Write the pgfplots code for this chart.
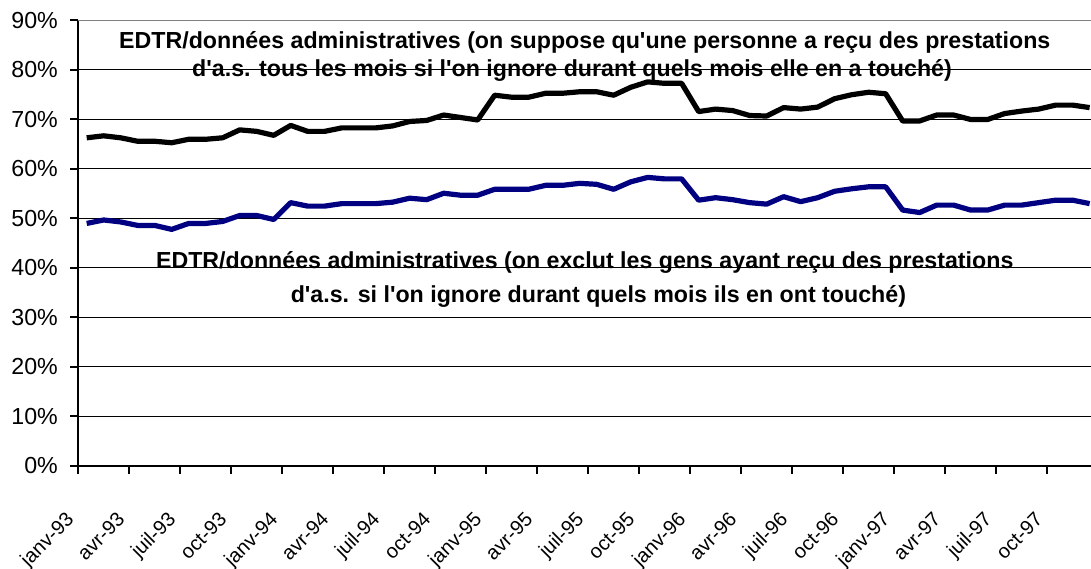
\documentclass[border=0pt]{standalone}
\usepackage{graphicx}
\usepackage{pgfplots}
\pgfplotsset{compat=1.18}
\usepackage{fontspec}
\setmainfont{Liberation Sans}
\definecolor{navyb}{RGB}{0,0,128}
\pgfplotstableread{
i a b
0 66.3 49.0
1 66.7 49.7
2 66.3 49.3
3 65.6 48.6
4 65.6 48.6
5 65.3 47.8
6 66.0 49.0
7 66.0 49.0
8 66.3 49.4
9 67.9 50.6
10 67.6 50.6
11 66.8 49.8
12 68.8 53.2
13 67.6 52.5
14 67.6 52.5
15 68.3 53.0
16 68.3 53.0
17 68.3 53.0
18 68.7 53.3
19 69.6 54.1
20 69.8 53.8
21 70.9 55.1
22 70.4 54.7
23 69.9 54.7
24 74.9 55.9
25 74.5 55.9
26 74.5 55.9
27 75.3 56.7
28 75.3 56.7
29 75.6 57.1
30 75.6 56.9
31 74.9 55.9
32 76.5 57.4
33 77.6 58.3
34 77.3 58.0
35 77.3 58.0
36 71.6 53.7
37 72.1 54.2
38 71.8 53.8
39 70.8 53.2
40 70.7 52.9
41 72.4 54.4
42 72.1 53.4
43 72.5 54.2
44 74.2 55.5
45 75.0 56.0
46 75.5 56.4
47 75.2 56.4
48 69.7 51.7
49 69.7 51.2
50 70.9 52.7
51 70.9 52.7
52 70.0 51.7
53 70.0 51.7
54 71.2 52.7
55 71.7 52.7
56 72.1 53.2
57 72.9 53.7
58 72.9 53.7
59 72.4 53.0
}\datatable
\newcommand{\tl}[1]{\rotatebox{45}{\raisebox{0pt}[0.75em][0pt]{#1}}}
\begin{document}
\begin{tikzpicture}
\begin{axis}[name=ax,
  scale only axis, width=506.4pt, height=222.75pt,
  xmin=-0.5, xmax=59.08, ymin=0, ymax=90,
  axis x line=bottom, axis y line=left,
  axis line style={-, line width=1pt, black},
  tick align=outside,
  tick style={black, line width=1pt},
  major tick length=4pt,
  ytick={0,10,...,80},
  yticklabels={0\%,10\%,20\%,30\%,40\%,50\%,60\%,70\%,80\%},
  extra y ticks={90}, extra y tick labels={90\%},
  extra y tick style={grid=none},
  ymajorgrids, major grid style={black, line width=0.5pt},
  xtick={-0.5,2.5,...,56.5},
  xticklabels={\tl{janv-93},\tl{avr-93},\tl{juil-93},\tl{oct-93},\tl{janv-94},\tl{avr-94},\tl{juil-94},\tl{oct-94},\tl{janv-95},\tl{avr-95},\tl{juil-95},\tl{oct-95},\tl{janv-96},\tl{avr-96},\tl{juil-96},\tl{oct-96},\tl{janv-97},\tl{avr-97},\tl{juil-97},\tl{oct-97}},
  yticklabel style={font=\fontsize{11.6}{13}\selectfont, anchor=east, inner sep=0pt, xshift=-6pt},
  xticklabel style={font=\fontsize{10}{11}\selectfont, anchor=north east, inner sep=0pt, xshift=-1.5pt, yshift=-18pt},
  clip=false,
]
\draw[gray, line width=0.6pt] (rel axis cs:0,1) -- (rel axis cs:1,1);
\addplot[black, line width=2.6pt, line join=round] table[x=i, y=a] {\datatable};
\addplot[navyb, line width=2.6pt, line join=round] table[x=i, y=b] {\datatable};
\node[font=\bfseries\fontsize{11.6}{13}\selectfont, anchor=base] at (axis cs:29.3,84.4) {EDTR/données administratives (on suppose qu\textquotesingle une personne a reçu des prestations};
\node[font=\bfseries\fontsize{11.6}{13}\selectfont, anchor=base] at (axis cs:28.55,78.6) {d\textquotesingle a.s. tous les mois si l\textquotesingle on ignore durant quels mois elle en a touché)};
\node[font=\bfseries\fontsize{11.6}{13}\selectfont, anchor=base] at (axis cs:29.3,39.8) {EDTR/données administratives (on exclut les gens ayant reçu des prestations};
\node[font=\bfseries\fontsize{11.6}{13}\selectfont, anchor=base] at (axis cs:30.1,33.1) {d\textquotesingle a.s. si l\textquotesingle on ignore durant quels mois ils en ont touché)};
\end{axis}
\pgfresetboundingbox
\path ([shift={(-39.1pt,-51.5pt)}]ax.south west) rectangle ([shift={(0pt,10.25pt)}]ax.north east);
\end{tikzpicture}
\end{document}
